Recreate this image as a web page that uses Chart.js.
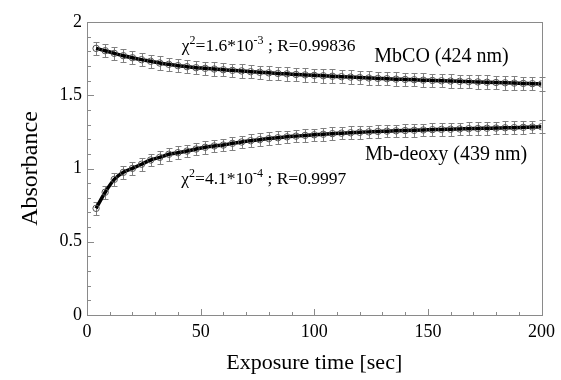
<!DOCTYPE html>
<html><head><meta charset="utf-8">
<script src="https://cdn.jsdelivr.net/npm/chart.js@4.4.1/dist/chart.umd.min.js"></script>
<style>html,body{margin:0;padding:0;background:#fff}#wrap{width:561px;height:380px}</style>
</head><body><div id="wrap"><canvas id="c" width="561" height="380"></canvas></div>
<script>
const times = [4,8,12,16,20,24,28,32,36,40,44,48,52,56,60,64,68,72,76,80,84,88,92,96,100,104,108,112,116,120,124,128,132,136,140,144,148,152,156,160,164,168,172,176,180,184,188,192,196,200];
const mbcoValues = [1.820,1.804,1.786,1.770,1.756,1.743,1.732,1.720,1.711,1.702,1.695,1.688,1.684,1.679,1.674,1.670,1.666,1.661,1.657,1.653,1.649,1.646,1.642,1.639,1.636,1.633,1.630,1.627,1.624,1.621,1.618,1.615,1.613,1.610,1.608,1.606,1.603,1.601,1.599,1.597,1.595,1.593,1.591,1.589,1.587,1.585,1.583,1.581,1.579,1.577];
const deoxyValues = [0.728,0.838,0.926,0.974,1.001,1.029,1.058,1.076,1.097,1.108,1.119,1.133,1.145,1.154,1.160,1.172,1.181,1.190,1.197,1.204,1.210,1.216,1.221,1.226,1.230,1.234,1.238,1.241,1.244,1.247,1.250,1.253,1.255,1.257,1.259,1.261,1.263,1.265,1.267,1.268,1.270,1.272,1.273,1.275,1.276,1.278,1.279,1.281,1.283,1.285];
const mbcoErrors = [0.046,0.046,0.046,0.046,0.046,0.046,0.046,0.046,0.046,0.046,0.046,0.046,0.046,0.046,0.046,0.046,0.046,0.046,0.046,0.046,0.046,0.046,0.046,0.046,0.046,0.046,0.046,0.046,0.046,0.046,0.046,0.046,0.046,0.046,0.046,0.046,0.046,0.046,0.046,0.046,0.046,0.046,0.046,0.046,0.046,0.046,0.046,0.046,0.046,0.046];
const deoxyErrors = [0.043,0.043,0.043,0.043,0.043,0.043,0.043,0.043,0.043,0.043,0.043,0.043,0.043,0.043,0.043,0.043,0.043,0.043,0.043,0.043,0.043,0.043,0.043,0.043,0.043,0.043,0.043,0.043,0.043,0.043,0.043,0.043,0.043,0.043,0.043,0.043,0.043,0.043,0.043,0.043,0.043,0.043,0.043,0.043,0.043,0.043,0.043,0.043,0.043,0.043];
const xTickLabels = ['0','50','100','150','200'];
const yTickLabels = ['0','0.5','1','1.5','2'];
const seriesNames = ['MbCO (424 nm)','Mb-deoxy (439 nm)'];

const SERIF = '"Liberation Serif", Tinos, "Times New Roman", Times, "DejaVu Serif", serif';
const toXY = vals => times.map((t,i)=>({x:t,y:vals[i]}));

const framePlugin = {
  id:'frame',
  beforeDatasetsDraw(chart){
    const {ctx, chartArea:a, scales:{x,y}} = chart;
    ctx.save();
    ctx.strokeStyle='#8a8a8a'; ctx.lineWidth=1;
    ctx.strokeRect(Math.round(a.left)+0.5, Math.round(a.top)+0.5, Math.round(a.right-a.left), Math.round(a.bottom-a.top));
    ctx.beginPath();
    for(let v=0; v<=200.001; v+=10){
      const px=Math.round(x.getPixelForValue(v))+0.5;
      const len = (Math.round(v)%50===0)?6:3;
      ctx.moveTo(px,a.bottom); ctx.lineTo(px,a.bottom-len);
    }
    for(let k=0; k<=20; k++){
      const py=Math.round(y.getPixelForValue(k/10))+0.5;
      const len = (k%5===0)?7:4;
      ctx.moveTo(a.left,py); ctx.lineTo(a.left+len,py);
    }
    ctx.stroke();
    ctx.strokeStyle='#808080';
    [[mbcoValues,mbcoErrors],[deoxyValues,deoxyErrors]].forEach(([vals,errs])=>{
      ctx.beginPath();
      times.forEach((t,i)=>{
        const px=Math.round(x.getPixelForValue(t))+0.5;
        const y1=Math.round(y.getPixelForValue(vals[i]+errs[i]))+0.5;
        const y2=Math.round(y.getPixelForValue(vals[i]-errs[i]))+0.5;
        ctx.moveTo(px,y1); ctx.lineTo(px,y2);
        ctx.moveTo(px-3,y1); ctx.lineTo(px+3,y1);
        ctx.moveTo(px-3,y2); ctx.lineTo(px+3,y2);
      });
      ctx.stroke();
    });
    ctx.restore();
  }
};

function drawRich(ctx, parts, x, y, size){
  let cx=x;
  parts.forEach(([txt,sup])=>{
    const fs = sup? Math.round(size*0.68) : size;
    ctx.font = fs+'px '+SERIF;
    ctx.fillText(txt, cx, sup? y-size*0.42 : y);
    cx += ctx.measureText(txt).width;
  });
}

const labelPlugin = {
  id:'labels',
  afterDraw(chart){
    const {ctx, scales:{x,y}} = chart;
    ctx.save();
    ctx.fillStyle='#000';
    ctx.textBaseline='alphabetic';
    ctx.textAlign='center';
    ctx.font='20px '+SERIF;
    ctx.fillText(seriesNames[0], x.getPixelForValue(156), y.getPixelForValue(1.727));
    ctx.fillText(seriesNames[1], x.getPixelForValue(158), y.getPixelForValue(1.058));
    ctx.textAlign='left';
    drawRich(ctx, [['χ',false],['2',true],['=1.6*10',false],['-3',true],[' ; R=0.99836',false]], x.getPixelForValue(41.7), y.getPixelForValue(1.80), 17.5);
    drawRich(ctx, [['χ',false],['2',true],['=4.1*10',false],['-4',true],[' ; R=0.9997',false]], x.getPixelForValue(41.5), y.getPixelForValue(0.894), 17.5);
    ctx.restore();
  }
};

new Chart(document.getElementById('c'), {
  type:'line',
  data:{
    datasets:[
      {label:seriesNames[0]+' pts', data:toXY(mbcoValues), showLine:false, pointRadius:3.2, pointBorderWidth:1, pointBorderColor:'#555', pointBackgroundColor:'rgba(255,255,255,0)', order:0},
      {label:seriesNames[1]+' pts', data:toXY(deoxyValues), showLine:false, pointRadius:3.2, pointBorderWidth:1, pointBorderColor:'#555', pointBackgroundColor:'rgba(255,255,255,0)', order:0},
      {label:seriesNames[0], data:toXY(mbcoValues), borderColor:'#000', borderWidth:3.5, pointRadius:0, cubicInterpolationMode:'monotone', fill:false, order:1},
      {label:seriesNames[1], data:toXY(deoxyValues), borderColor:'#000', borderWidth:3.5, pointRadius:0, cubicInterpolationMode:'monotone', fill:false, order:1}
    ]
  },
  options:{
    responsive:false, animation:false, devicePixelRatio:1,
    layout:{padding:{left:0,right:18,top:22,bottom:0}},
    plugins:{legend:{display:false}, tooltip:{enabled:false}},
    scales:{
      x:{type:'linear', min:0, max:200,
        grid:{display:false, drawTicks:false}, border:{display:false},
        ticks:{stepSize:50, maxRotation:0, color:'#000', padding:6, font:{family:SERIF,size:18},
          callback:(v)=>{const i=[0,50,100,150,200].indexOf(v); return i>=0?xTickLabels[i]:'';}},
        title:{display:true, text:'Exposure time [sec]', color:'#000', font:{family:SERIF,size:22}, padding:{top:0,bottom:4}},
        afterFit(s){s.height=65;}
      },
      y:{type:'linear', min:0, max:2,
        grid:{display:false, drawTicks:false}, border:{display:false},
        ticks:{stepSize:0.5, color:'#000', padding:5, font:{family:SERIF,size:18},
          callback:(v)=>{const i=[0,0.5,1,1.5,2].indexOf(v); return i>=0?yTickLabels[i]:'';}},
        title:{display:true, text:'Absorbance', color:'#000', font:{family:SERIF,size:24}, padding:{top:16,bottom:0}},
        afterFit(s){s.width=87;}
      }
    }
  },
  plugins:[framePlugin, labelPlugin]
});
</script></body></html>
